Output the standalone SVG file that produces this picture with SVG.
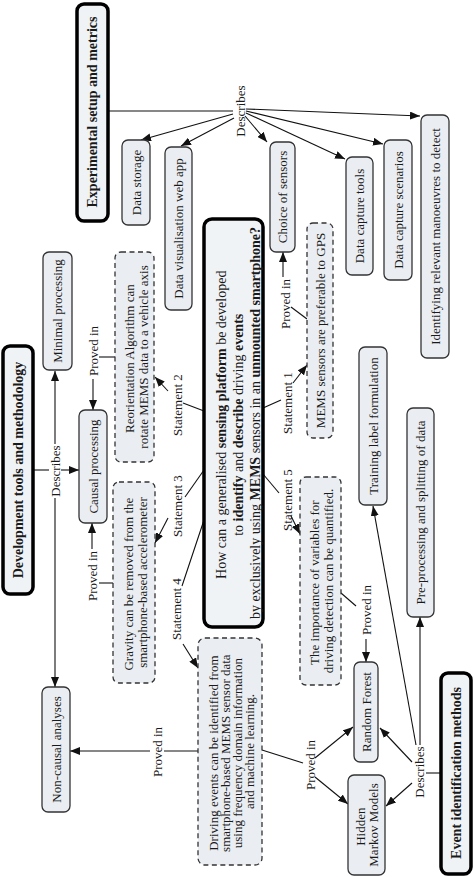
<svg xmlns="http://www.w3.org/2000/svg" width="474" height="877" viewBox="0 0 474 877">
<defs>
<marker id="ah" viewBox="0 0 10 8" refX="10" refY="4" markerWidth="10" markerHeight="8" markerUnits="userSpaceOnUse" orient="auto">
<path d="M0,0 L10,4 L0,8 Z" fill="#111"/>
</marker>
<style>
text{font-family:"Liberation Serif","Times New Roman",serif;font-size:13px;fill:#1a1a1a;text-anchor:middle}
.b{font-weight:bold}
.q{font-size:14px}
.tb{font-weight:bold;font-size:14px}
.n{fill:#eaeef2;stroke:#333;stroke-width:1.3}
.d{fill:#eaeef2;stroke:#333;stroke-width:1.3;stroke-dasharray:5,3.5}
.k{fill:#f0f3f6;stroke:#000;stroke-width:3.5}
.c line,.c polyline{stroke:#111;stroke-width:1.1;fill:none}
.a{marker-end:url(#ah)}
</style>
</defs>
<rect width="474" height="877" fill="#fff"/>

<g class="c" id="connectors">
<line x1="109" y1="111" x2="233" y2="111"/>
<line class="a" x1="233" y1="114" x2="141" y2="140"/>
<line class="a" x1="234" y1="118" x2="181" y2="146"/>
<line class="a" x1="245" y1="116" x2="267" y2="142"/>
<line class="a" x1="246" y1="113" x2="345" y2="159"/>
<line class="a" x1="246" y1="111" x2="383" y2="144"/>
<line class="a" x1="246" y1="109" x2="420" y2="116"/>
<line x1="291" y1="307" x2="307" y2="319"/>
<line class="a" x1="283" y1="277" x2="283" y2="252"/>
<line x1="263" y1="408" x2="281" y2="400"/>
<line class="a" x1="293" y1="383" x2="307" y2="365"/>
<line x1="263" y1="474" x2="279" y2="493"/>
<line class="a" x1="291" y1="516" x2="300" y2="534"/>
<line x1="341" y1="593" x2="356" y2="606"/>
<line class="a" x1="366" y1="639" x2="366" y2="662"/>
<line x1="441" y1="773" x2="426" y2="773"/>
<line class="a" x1="412" y1="762" x2="380" y2="728"/>
<line class="a" x1="412" y1="783" x2="386" y2="806"/>
<line class="a" x1="420" y1="745" x2="420" y2="617"/>
<line class="a" x1="416" y1="745" x2="373" y2="506"/>
<line x1="262" y1="750" x2="303" y2="763"/>
<line class="a" x1="315" y1="758" x2="353" y2="727"/>
<line class="a" x1="315" y1="777" x2="348" y2="804"/>
<line x1="198" y1="751" x2="164" y2="751"/>
<line class="a" x1="150" y1="751" x2="70" y2="751"/>
<line x1="33" y1="470" x2="49" y2="470"/>
<line class="a" x1="61" y1="470" x2="79" y2="470"/>
<line class="a" x1="55" y1="444" x2="55" y2="371"/>
<line class="a" x1="55" y1="498" x2="55" y2="687"/>
<line x1="99" y1="357" x2="115" y2="357"/>
<line class="a" x1="93" y1="379" x2="93" y2="410"/>
<line x1="99" y1="583" x2="113" y2="583"/>
<line class="a" x1="92" y1="549" x2="92" y2="523"/>
<line x1="183" y1="403" x2="204" y2="411"/>
<line class="a" x1="168" y1="391" x2="155" y2="377"/>
<line x1="204" y1="470" x2="185" y2="497"/>
<line class="a" x1="168" y1="518" x2="155" y2="543"/>
<line x1="204" y1="520" x2="182" y2="586"/>
<line class="a" x1="183" y1="644" x2="198" y2="668"/>
</g>

<g id="connector-labels">
<text transform="translate(240,111) rotate(-90)" y="4.5">Describes</text>
<text transform="translate(285,304) rotate(-90)" y="4.5">Proved in</text>
<text transform="translate(287,403) rotate(-90)" y="4.5">Statement 1</text>
<text transform="translate(287,500) rotate(-90)" y="4.5">Statement 5</text>
<text transform="translate(366,610) rotate(-90)" y="4.5">Proved in</text>
<text transform="translate(419,772) rotate(-90)" y="4.5">Describes</text>
<text transform="translate(310,765) rotate(-90)" y="4.5">Proved in</text>
<text transform="translate(157,752) rotate(-90)" y="4.5">Proved in</text>
<text transform="translate(55,471) rotate(-90)" y="4.5">Describes</text>
<text transform="translate(93,351) rotate(-90)" y="4.5">Proved in</text>
<text transform="translate(92,576) rotate(-90)" y="4.5">Proved in</text>
<text transform="translate(177,405) rotate(-90)" y="4.5">Statement 2</text>
<text transform="translate(177,506) rotate(-90)" y="4.5">Statement 3</text>
<text transform="translate(176,609) rotate(-90)" y="4.5">Statement 4</text>
</g>

<g id="experimental-setup">
<rect class="k" x="77" y="4" width="31" height="217" rx="7"/>
<text class="tb" transform="translate(92.5,112) rotate(-90)" y="4.8">Experimental setup and metrics</text>
</g>
<g id="development-tools">
<rect class="k" x="3" y="346" width="30" height="248" rx="7"/>
<text class="tb" transform="translate(18,470) rotate(-90)" y="4.8">Development tools and methodology</text>
</g>
<g id="event-identification">
<rect class="k" x="441" y="673" width="30" height="201" rx="7"/>
<text class="tb" transform="translate(456,773) rotate(-90)" y="4.8">Event identification methods</text>
</g>
<g id="question">
<rect class="k" x="204" y="219" width="59" height="408" rx="8"/>
<text class="q" transform="translate(238,423) rotate(-90)">
<tspan x="0" y="-12">How can a generalised <tspan class="b">sensing platform</tspan> be developed</tspan>
<tspan x="0" y="4.8">to <tspan class="b">identify</tspan> and <tspan class="b">describe</tspan> driving <tspan class="b">events</tspan></tspan>
<tspan x="0" y="21.6">by exclusively using <tspan class="b">MEMS</tspan> sensors in an <tspan class="b">unmounted smartphone?</tspan></tspan>
</text>
</g>
<g id="data-storage">
<rect class="n" x="122" y="140" width="28" height="85" rx="6"/>
<text transform="translate(136,182.5) rotate(-90)" y="4.5">Data storage</text>
</g>
<g id="data-visualisation">
<rect class="n" x="165" y="147" width="27" height="163" rx="6"/>
<text transform="translate(178.5,228.5) rotate(-90)" y="4.5">Data visualisation web app</text>
</g>
<g id="choice-of-sensors">
<rect class="n" x="270" y="142" width="25" height="110" rx="6"/>
<text transform="translate(282.5,197) rotate(-90)" y="4.5">Choice of sensors</text>
</g>
<g id="data-capture-tools">
<rect class="n" x="346" y="157" width="27" height="118" rx="6"/>
<text transform="translate(359.5,216) rotate(-90)" y="4.5">Data capture tools</text>
</g>
<g id="data-capture-scenarios">
<rect class="n" x="384" y="140" width="28" height="140" rx="6"/>
<text transform="translate(398,210) rotate(-90)" y="4.5">Data capture scenarios</text>
</g>
<g id="identifying-manoeuvres">
<rect class="n" x="421" y="115" width="28" height="243" rx="6"/>
<text transform="translate(435,236.5) rotate(-90)" y="4.5">Identifying relevant manoeuvres to detect</text>
</g>
<g id="mems-preferable">
<rect class="d" x="307" y="223" width="26" height="215" rx="6"/>
<text transform="translate(320,330.5) rotate(-90)" y="4.5">MEMS sensors are preferable to GPS</text>
</g>
<g id="reorientation">
<rect class="d" x="115" y="252" width="39" height="210" rx="6"/>
<text transform="translate(136,357) rotate(-90)">
<tspan x="0" y="-2.5">Reorientation Algorithm can</tspan>
<tspan x="0" y="11.5">rotate MEMS data to a vehicle axis</tspan>
</text>
</g>
<g id="gravity">
<rect class="d" x="113" y="482" width="42" height="201" rx="6"/>
<text transform="translate(135,582.5) rotate(-90)">
<tspan x="0" y="-2.5">Gravity can be removed from the</tspan>
<tspan x="0" y="11.5">smartphone-based accelerometer</tspan>
</text>
</g>
<g id="causal-processing">
<rect class="n" x="79" y="410" width="28" height="113" rx="6"/>
<text transform="translate(93,466.5) rotate(-90)" y="4.5">Causal processing</text>
</g>
<g id="minimal-processing">
<rect class="n" x="43" y="252" width="29" height="118" rx="6"/>
<text transform="translate(57.5,311) rotate(-90)" y="4.5">Minimal processing</text>
</g>
<g id="non-causal-analyses">
<rect class="n" x="42" y="687" width="28" height="125" rx="6"/>
<text transform="translate(56,749.5) rotate(-90)" y="4.5">Non-causal analyses</text>
</g>
<g id="driving-events">
<rect class="d" x="198" y="638" width="64" height="227" rx="7"/>
<text transform="translate(231,751.5) rotate(-90)">
<tspan x="0" y="-13.5">Driving events can be identified from</tspan>
<tspan x="0" y="-1.5">smartphone-based MEMS sensor data</tspan>
<tspan x="0" y="10.5">using frequency domain information</tspan>
<tspan x="0" y="22.5">and machine learning.</tspan>
</text>
</g>
<g id="importance-variables">
<rect class="d" x="300" y="477" width="41" height="208" rx="6"/>
<text transform="translate(321.5,581) rotate(-90)">
<tspan x="0" y="-2.5">The importance of variables for</tspan>
<tspan x="0" y="11.5">driving detection can be quantified.</tspan>
</text>
</g>
<g id="random-forest">
<rect class="n" x="354" y="662" width="24" height="100" rx="6"/>
<text transform="translate(366,712) rotate(-90)" y="4.5">Random Forest</text>
</g>
<g id="hidden-markov-models">
<rect class="n" x="348" y="775" width="37" height="100" rx="6"/>
<text transform="translate(367,825) rotate(-90)">
<tspan x="0" y="-2">Hidden</tspan>
<tspan x="0" y="11">Markov Models</tspan>
</text>
</g>
<g id="pre-processing">
<rect class="n" x="407" y="408" width="27" height="209" rx="6"/>
<text transform="translate(420.5,512.5) rotate(-90)" y="4.5">Pre-processing and splitting of data</text>
</g>
<g id="training-label">
<rect class="n" x="359" y="347" width="28" height="158" rx="6"/>
<text transform="translate(373,426) rotate(-90)" y="4.5">Training label formulation</text>
</g>
</svg>
